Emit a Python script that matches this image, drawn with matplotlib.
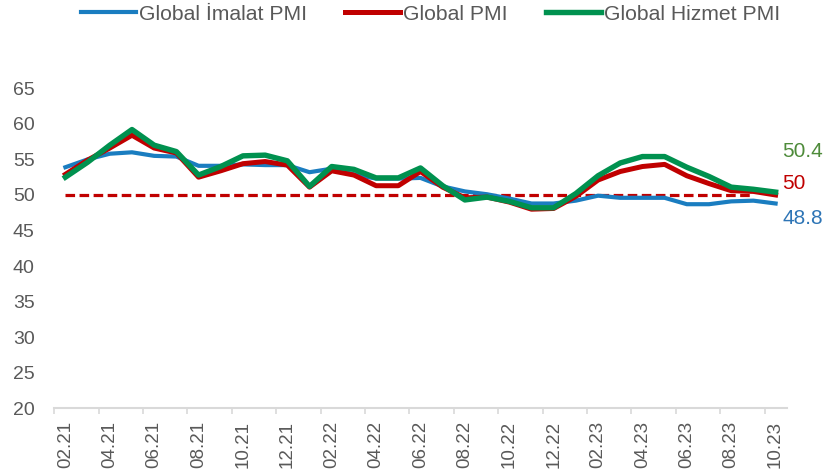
import matplotlib
matplotlib.use("Agg")
import matplotlib.pyplot as plt

months = ["02.21", "03.21", "04.21", "05.21", "06.21", "07.21", "08.21", "09.21",
          "10.21", "11.21", "12.21", "01.22", "02.22", "03.22", "04.22", "05.22",
          "06.22", "07.22", "08.22", "09.22", "10.22", "11.22", "12.22", "01.23",
          "02.23", "03.23", "04.23", "05.23", "06.23", "07.23", "08.23", "09.23",
          "10.23"]

imalat = [53.9, 55.0, 55.8, 56.0, 55.5, 55.4, 54.1, 54.1, 54.3, 54.2, 54.2, 53.2,
          53.7, 52.9, 52.3, 52.3, 52.4, 51.2, 50.5, 50.1, 49.5, 48.8, 48.8, 49.2,
          49.9, 49.6, 49.6, 49.6, 48.7, 48.7, 49.1, 49.2, 48.8]
global_pmi = [52.9, 54.9, 56.6, 58.4, 56.6, 55.9, 52.5, 53.4, 54.4, 54.7, 54.2, 51.1,
              53.4, 52.8, 51.3, 51.3, 53.3, 51.1, 49.6, 49.7, 49.0, 48.0, 48.1, 49.8,
              52.1, 53.3, 54.0, 54.3, 52.7, 51.6, 50.6, 50.5, 50.0]
hizmet = [52.5, 54.6, 57.0, 59.2, 57.0, 56.1, 52.8, 54.0, 55.5, 55.6, 54.8, 51.2,
          54.0, 53.6, 52.4, 52.4, 53.8, 51.3, 49.3, 49.7, 49.1, 48.2, 48.2, 50.2,
          52.7, 54.5, 55.4, 55.4, 53.9, 52.6, 51.1, 50.8, 50.4]
threshold = [50] * 32

series_names = ["Global İmalat PMI", "Global PMI", "Global Hizmet PMI"]
yticks = [20, 25, 30, 35, 40, 45, 50, 55, 60, 65]

plt.rcParams['font.family'] = ['Liberation Sans', 'DejaVu Sans']

fig = plt.figure(figsize=(8.25, 4.76), dpi=100)
ax = fig.add_axes([54.3 / 825, 1 - 408.3 / 476, (786.7 - 54.3) / 825, (408.3 - 88.3) / 476])

x = list(range(len(months)))
blue, red, green = "#1A7DC0", "#C00000", "#00914F"

ax.plot(range(len(threshold)), threshold, color=red, lw=2.3, dashes=(3.0, 1.4), zorder=2)
l1, = ax.plot(x, imalat, color=blue, lw=3.0, zorder=3, solid_joinstyle='round', label=series_names[0])
l2, = ax.plot(x, global_pmi, color=red, lw=3.6, zorder=4, solid_joinstyle='round', label=series_names[1])
l3, = ax.plot(x, hizmet, color=green, lw=3.9, zorder=5, solid_joinstyle='round', label=series_names[2])

ax.set_xlim(-0.5, len(months) - 0.5)
ax.set_ylim(20, 65)

for s in ["top", "right", "left"]:
    ax.spines[s].set_visible(False)
ax.spines["bottom"].set_color("#D9D9D9")
ax.spines["bottom"].set_linewidth(1.5)

ax.set_yticks(yticks)
ax.tick_params(axis='y', length=0, pad=14, labelsize=14, labelcolor="#595959")

major = [i - 0.5 for i in range(0, len(months) + 1, 2)]
ax.set_xticks(major)
ax.set_xticklabels([""] * len(major))
ax.tick_params(axis='x', which='major', length=4, width=1.2, color="#D9D9D9")
ax.set_xticks(x[::2], minor=True)
ax.set_xticklabels(months[::2], minor=True, rotation=90)
ax.tick_params(axis='x', which='minor', length=0, pad=9, labelsize=13.5, labelcolor="#595959")

ann = [(hizmet, "#4E8B3A", 29.5), (global_pmi, red, 8.0), (imalat, "#2E75B6", -10.8)]
for vals, col, dy in ann:
    ax.annotate(f"{vals[-1]:g}", xy=(len(vals) - 1, vals[-1]), xytext=(5, dy),
                textcoords="offset points", color=col, fontsize=15,
                ha="left", va="center", annotation_clip=False)

fig.legend(handles=[l1, l2, l3], loc="center", bbox_to_anchor=(0.522, 0.97),
           ncol=3, frameon=False, fontsize=15.2, handlelength=2.6,
           handletextpad=0.15, columnspacing=1.8, labelcolor="#595959")

fig.savefig("out.png", dpi=100)
